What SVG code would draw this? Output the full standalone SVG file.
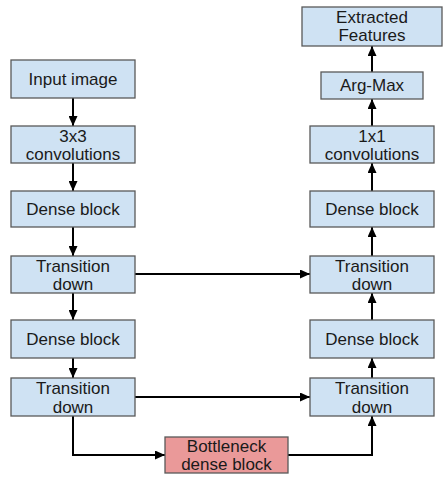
<svg xmlns="http://www.w3.org/2000/svg" width="448" height="480" viewBox="0 0 448 480">
<style>
.b{fill:#cfe2f3;stroke:#595959;stroke-width:1.3}
.r{fill:#ea9999;stroke:#595959;stroke-width:1.3}
text{font-family:"Liberation Sans",Arial,sans-serif;font-size:17px;fill:#1a1a1a;text-anchor:middle}
.c path{fill:none;stroke:#000;stroke-width:2}
</style>
<defs>
<marker id="a" viewBox="0 0 10 9" refX="10" refY="4.5" markerWidth="10" markerHeight="9" markerUnits="userSpaceOnUse" orient="auto">
<path d="M0,0L10,4.5L0,9z" fill="#000"/>
</marker>
</defs>
<rect width="448" height="480" fill="#fff"/>
<g class="c">
<path d="M73,98V126" marker-end="url(#a)"/>
<path d="M73,163V191" marker-end="url(#a)"/>
<path d="M73,227V256" marker-end="url(#a)"/>
<path d="M73,293V320" marker-end="url(#a)"/>
<path d="M73,358V378" marker-end="url(#a)"/>
<path d="M73,416V455H165" marker-end="url(#a)"/>
<path d="M288,455H372V416" marker-end="url(#a)"/>
<path d="M372,378V358" marker-end="url(#a)"/>
<path d="M372,320V293" marker-end="url(#a)"/>
<path d="M372,256V227" marker-end="url(#a)"/>
<path d="M372,191V163" marker-end="url(#a)"/>
<path d="M372,126V99" marker-end="url(#a)"/>
<path d="M372,72V46" marker-end="url(#a)"/>
<path d="M135,274H310" marker-end="url(#a)"/>
<path d="M135,397H310" marker-end="url(#a)"/>
</g>
<g id="input"><rect class="b" x="11" y="60" width="124" height="38"/><text x="73" y="85">Input image</text></g>
<g id="conv3"><rect class="b" x="11" y="126" width="124" height="37"/><text x="73" y="142">3x3</text><text x="73" y="160">convolutions</text></g>
<g id="dense1"><rect class="b" x="11" y="191" width="124" height="36"/><text x="73" y="215">Dense block</text></g>
<g id="td1"><rect class="b" x="11" y="256" width="124" height="37"/><text x="73" y="272">Transition</text><text x="73" y="290">down</text></g>
<g id="dense2"><rect class="b" x="11" y="320" width="124" height="38"/><text x="73" y="345">Dense block</text></g>
<g id="td2"><rect class="b" x="11" y="378" width="124" height="38"/><text x="73" y="394">Transition</text><text x="73" y="413">down</text></g>
<g id="bottleneck"><rect class="r" x="165" y="437" width="123" height="36"/><text x="226.5" y="452">Bottleneck</text><text x="226.5" y="470">dense block</text></g>
<g id="td3"><rect class="b" x="310" y="378" width="124" height="38"/><text x="372" y="394">Transition</text><text x="372" y="413">down</text></g>
<g id="dense3"><rect class="b" x="310" y="320" width="124" height="38"/><text x="372" y="345">Dense block</text></g>
<g id="td4"><rect class="b" x="310" y="256" width="124" height="37"/><text x="372" y="272">Transition</text><text x="372" y="290">down</text></g>
<g id="dense4"><rect class="b" x="310" y="191" width="124" height="36"/><text x="372" y="215">Dense block</text></g>
<g id="conv1"><rect class="b" x="310" y="126" width="124" height="37"/><text x="372" y="142">1x1</text><text x="372" y="160">convolutions</text></g>
<g id="argmax"><rect class="b" x="321" y="72" width="102" height="27"/><text x="372" y="91">Arg-Max</text></g>
<g id="features"><rect class="b" x="302" y="7" width="140" height="39"/><text x="372" y="23">Extracted</text><text x="372" y="41">Features</text></g>
</svg>
